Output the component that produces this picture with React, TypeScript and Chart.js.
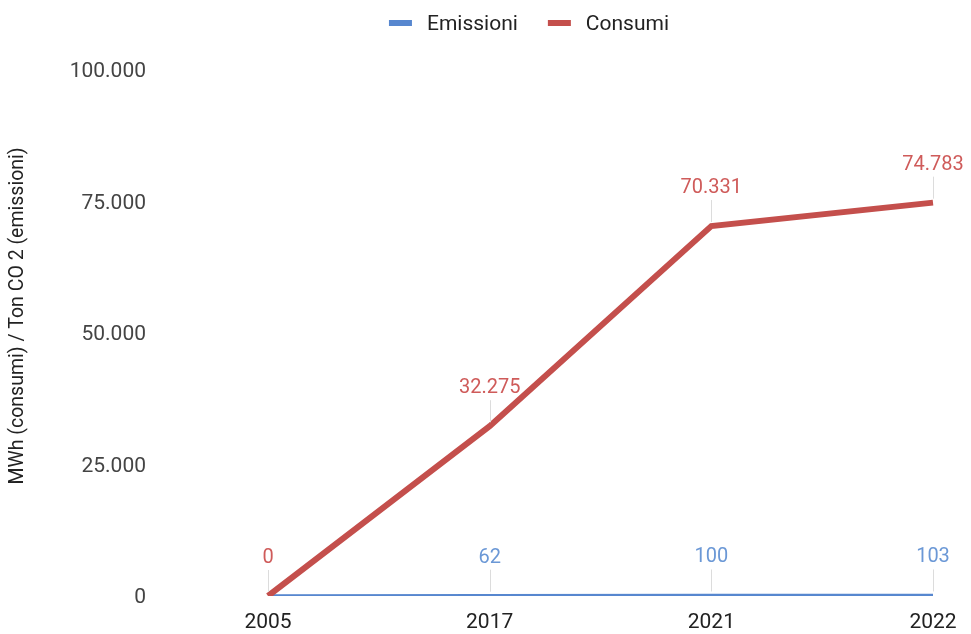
import React, { useEffect, useRef } from "react";
import { Chart, registerables } from "chart.js";

Chart.register(...registerables);

// Years on the horizontal axis
const years = ["2005", "2017", "2021", "2022"];
// Emissions, Ton CO2
const emissioni = [0, 62, 100, 103];
// Consumption, MWh
const consumi = [0, 32275, 70331, 74783];
// Which points carry a value annotation (the 2005 emissions label is hidden by the consumption one)
const emissioniLabelShown = [false, true, true, true];
const consumiLabelShown = [true, true, true, true];
// Vertical axis ticks
const yTicks = [0, 25000, 50000, 75000, 100000];

const yTitle = "MWh (consumi) / Ton CO 2 (emissioni)";

const FONT = "Roboto, Arial, sans-serif";
const BLUE = "#5787cf";
const RED = "#c44f4c";
const BLUE_LABEL = "#6b98d6";
const RED_LABEL = "#cf5b5a";

const fmt = (v: number) =>
  String(Math.round(v)).replace(/\B(?=(\d{3})+(?!\d))/g, ".");

const decorations = {
  id: "decorations",
  afterDatasetsDraw(chart: any) {
    const ctx = chart.ctx as CanvasRenderingContext2D;
    const ds = chart.data.datasets;
    ds.forEach((d: any, i: number) => {
      const meta = chart.getDatasetMeta(i);
      const shown: boolean[] = d.labelShown;
      meta.data.forEach((pt: any, j: number) => {
        if (!shown[j]) return;
        const x = pt.x;
        const y = pt.y;
        ctx.save();
        ctx.strokeStyle = "#dcdcdc";
        ctx.lineWidth = 1;
        ctx.beginPath();
        ctx.moveTo(Math.round(x) + 0.5, y - 4);
        ctx.lineTo(Math.round(x) + 0.5, y - 26);
        ctx.stroke();
        ctx.fillStyle = d.labelColor;
        ctx.font = `20px ${FONT}`;
        ctx.textAlign = "center";
        ctx.textBaseline = "alphabetic";
        ctx.fillText(fmt(d.data[j]), x, y - 33);
        ctx.restore();
      });
    });
  },
  afterDraw(chart: any) {
    const ctx = chart.ctx as CanvasRenderingContext2D;
    // axis title
    ctx.save();
    ctx.translate(18, 316);
    ctx.rotate(-Math.PI / 2);
    ctx.font = `19.5px ${FONT}`;
    ctx.fillStyle = "#222";
    ctx.textAlign = "center";
    ctx.textBaseline = "middle";
    ctx.fillText(yTitle, 0, 0);
    ctx.restore();

    // legend in dataset order
    ctx.save();
    ctx.font = `21px ${FONT}`;
    const items = chart.data.datasets.map((d: any) => ({
      text: d.label,
      color: d.borderColor,
      w: ctx.measureText(d.label).width,
    }));
    const markerW = 23;
    const gap = 15;
    const itemGap = 30;
    const total =
      items.reduce((s: number, it: any) => s + markerW + gap + it.w, 0) +
      itemGap * (items.length - 1);
    let x = 529 - total / 2;
    const cy = 23;
    items.forEach((it: any) => {
      ctx.fillStyle = it.color;
      ctx.fillRect(x, cy - 3, markerW, 6);
      x += markerW + gap;
      ctx.fillStyle = "#222";
      ctx.textAlign = "left";
      ctx.textBaseline = "middle";
      ctx.fillText(it.text, x, cy + 1.5);
      x += it.w + itemGap;
    });
    ctx.restore();
  },
};

export default function App() {
  const ref = useRef<HTMLCanvasElement>(null);

  useEffect(() => {
    if (!ref.current) return;
    const chart = new Chart(ref.current, {
      type: "line",
      data: {
        labels: years,
        datasets: [
          {
            label: "Emissioni",
            data: emissioni,
            borderColor: BLUE,
            backgroundColor: BLUE,
            borderWidth: 3.5,
            pointRadius: 0,
            pointHoverRadius: 0,
            order: 1,
            labelShown: emissioniLabelShown,
            labelColor: BLUE_LABEL,
          } as any,
          {
            label: "Consumi",
            data: consumi,
            borderColor: RED,
            backgroundColor: RED,
            borderWidth: 6,
            pointRadius: 0,
            pointHoverRadius: 0,
            order: 0,
            labelShown: consumiLabelShown,
            labelColor: RED_LABEL,
          } as any,
        ],
      },
      options: {
        animation: false,
        responsive: true,
        maintainAspectRatio: false,
        layout: { padding: { top: 70, left: 0, right: 38, bottom: 2 } },
        plugins: {
          legend: { display: false },
          tooltip: { enabled: false },
        },
        scales: {
          x: {
            type: "category",
            offset: false,
            grid: { display: false, drawTicks: false },
            border: { display: false },
            afterFit(axis: any) {
              axis.height = 36;
            },
            ticks: {
              padding: 14,
              color: "#222",
              font: { family: FONT, size: 21 },
              maxRotation: 0,
            },
          },
          y: {
            min: yTicks[0],
            max: yTicks[yTicks.length - 1],
            grid: { display: false, drawTicks: false },
            border: { display: false },
            afterFit(axis: any) {
              axis.width = 268;
              axis.paddingTop = 13;
              axis.paddingBottom = 13;
            },
            afterBuildTicks(axis: any) {
              axis.ticks = yTicks.map((v) => ({ value: v }));
            },
            ticks: {
              padding: 122,
              labelOffset: 2,
              color: "#444",
              font: { family: FONT, size: 21 },
              callback: (v: any) => fmt(Number(v)),
            },
          },
        },
      },
      plugins: [decorations],
    });
    return () => chart.destroy();
  }, []);

  return (
    <div style={{ position: "fixed", left: 0, top: 0, width: 971, height: 634, background: "#fff" }}>
      <canvas ref={ref} />
    </div>
  );
}
